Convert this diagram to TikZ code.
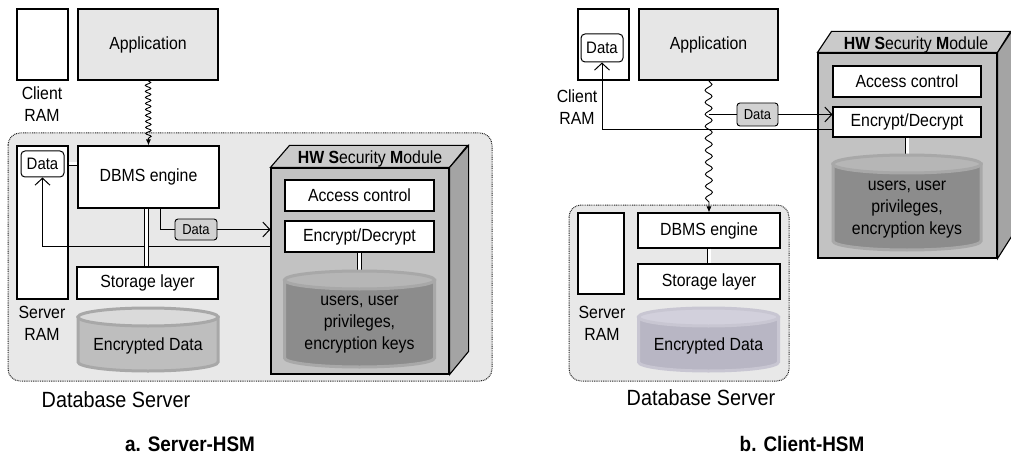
\documentclass[tikz,border=0pt]{standalone}
\usepackage{fontspec}
\setmainfont{Liberation Sans}[FakeStretch=0.9]
\definecolor{ServerGray}{RGB}{232, 232, 232}
\definecolor{AppGray}{RGB}{230, 230, 230}
\definecolor{LabelGray}{RGB}{210, 210, 210}
\definecolor{HsmFront}{RGB}{194, 194, 194}
\definecolor{HsmTop}{RGB}{202, 202, 202}
\definecolor{HsmSide}{RGB}{164, 164, 164}
\definecolor{KeyBody}{RGB}{140, 140, 140}
\definecolor{KeyEdge}{RGB}{168, 168, 168}
\definecolor{KeyTop}{RGB}{182, 182, 182}
\definecolor{EncBody}{RGB}{190, 190, 190}
\definecolor{EncEdge}{RGB}{168, 168, 168}
\definecolor{EncTop}{RGB}{218, 218, 218}
\definecolor{LavBody}{RGB}{184, 182, 196}
\definecolor{LavEdge}{RGB}{200, 198, 210}
\definecolor{LavTop}{RGB}{210, 208, 220}
\usepackage{tikz}
\usetikzlibrary{arrows.meta, decorations.pathmorphing}

% cylinder: style, top colour, x centre, top y, bottom y, x radius
\newcommand{\drawcyl}[6]{%
  \draw[#1] (#3-#6,#4) -- (#3-#6,#5) arc[start angle=180, end angle=0, x radius=#6, y radius=9] -- (#3+#6,#4) -- cycle;
  \draw[#1, fill=#2] (#3,#4) ellipse[x radius=#6, y radius=9];
}

\tikzset{
  box/.style={draw, fill=white, line width=1.1pt, inner sep=0pt, font=\fontsize{17.6}{19}\selectfont},
  appbox/.style={box, fill=AppGray},
  ramtext/.style={align=center, font=\fontsize{17.6}{22}\selectfont},
  datalbl/.style={draw, fill=LabelGray, rounded corners=3pt, line width=0.9pt, inner sep=0pt, font=\fontsize{14.4}{16}\selectfont},
  ramdata/.style={draw, fill=white, rounded corners=4pt, line width=1pt, inner sep=0pt, font=\fontsize{16.6}{18}\selectfont},
  hsmface/.style={draw, fill=HsmFront, line width=1.1pt},
  server/.style={draw=black!85, dash pattern=on 0.9pt off 0.9pt, line width=1pt, rounded corners=12pt, fill=ServerGray},
  conn/.style={line width=1pt},
  barb/.style={conn, -{Straight Barb[length=7pt, width=15pt, line width=1pt]}},
  dbl/.style={double=white, double distance=3pt, line width=0.9pt},
  wavy/.style 2 args={line width=0.9pt, -{Latex[length=6pt, width=5pt]}, decorate,
    decoration={snake, amplitude=#2, segment length=#1, post length=5pt}},
  keystext/.style={align=center, font=\fontsize{17.6}{22}\selectfont},
  bigtext/.style={font=\fontsize{22}{24}\selectfont},
  caption/.style={font=\fontsize{21}{24}\selectfont\bfseries}
}

\begin{document}
\begin{tikzpicture}[x=1pt, y=-1pt]
  \useasboundingbox (0,0) rectangle (1011,457);

  % ---------------- a. Server-HSM ----------------
  \draw[server] (8,133) rectangle (492,381);

  \node[box, minimum width=51, minimum height=71] (cramA) at (42.5,44.5) {};
  \node[appbox, minimum width=140, minimum height=71] (appA) at (148,44.5) {Application};
  \node[ramtext] (cramlblA) at (42,104) {Client\\RAM};

  \node[box, minimum width=51, minimum height=153] (sramA) at (42.5,222.5) {};
  \node[ramdata, minimum width=43, minimum height=26] (ramdataA) at (42.5,164) {Data};
  \node[ramtext] (sramlblA) at (42,323) {Server\\RAM};

  \node[box, minimum width=141, minimum height=62] (dbmsA) at (148.5,177) {DBMS engine};
  \node[box, minimum width=141, minimum height=32] (storA) at (147.5,283) {Storage layer};
  \drawcyl{EncEdge, fill=EncBody, line width=3pt}{EncTop}{148}{317}{362}{70}
  \node[font=\fontsize{17.6}{19}\selectfont] (encdataA) at (148,346) {Encrypted Data};

  % HSM box
  \node[hsmface, minimum width=178, minimum height=206] (hsmA) at (360,271) {};
  \draw[hsmface, fill=HsmTop] (hsmA.north west) -- ++(19,-22) -- ++(178,0) -- (hsmA.north east) -- cycle;
  \draw[hsmface, fill=HsmSide] (hsmA.north east) -- ++(19,-22) -- ++(0,206) -- (hsmA.south east) -- cycle;
  \node[font=\fontsize{17.6}{19}\selectfont] (hsmtitleA) at (370,159) {\textbf{HW S}ecurity \textbf{M}odule};
  \node[box, minimum width=149, minimum height=31] (accA) at (359.5,195.5) {Access control};
  \node[box, minimum width=149, minimum height=31] (encA) at (359.5,236.5) {Encrypt/Decrypt};
  \draw[dbl] (encA.south) -- ++(0,30);
  \drawcyl{KeyEdge, fill=KeyBody, line width=3pt}{KeyTop}{359.5}{280}{358}{75}
  \node[keystext] (keysA) at (359.5,325) {users, user\\privileges,\\encryption keys};

  % connectors
  \draw[wavy={6pt}{2.7pt}] (appA.south) -- (dbmsA.north);
  \draw[barb] ([yshift=25pt]hsmA.west) -| (ramdataA.south);
  \node[datalbl, minimum width=42, minimum height=21] (dataA) at (196,229.5) {Data};
  \draw[conn] ([xshift=12pt]dbmsA.south) |- (dataA.west);
  \draw[barb] (dataA.east) -- (dataA.east -| hsmA.west);
  \draw[dbl] (ramdataA -| sramA.east) -- (ramdataA -| dbmsA.west);
  \draw[dbl] ([xshift=-2pt]dbmsA.south) -- ([xshift=-2pt]dbmsA.south |- storA.north);

  \node[bigtext] (serverlblA) at (116,400) {Database Server};
  \node[caption] (capA) at (190,444) {a. Server-HSM};

  % ---------------- b. Client-HSM ----------------
  \draw[server] (569,205) rectangle (789,381);

  \node[box, minimum width=51, minimum height=71] (cramB) at (603.5,44.5) {};
  \node[ramdata, minimum width=42, minimum height=28] (ramdataB) at (602,48) {Data};
  \node[appbox, minimum width=139, minimum height=71] (appB) at (708.5,44.5) {Application};
  \node[ramtext] (cramlblB) at (577,107) {Client\\RAM};

  \node[box, minimum width=46, minimum height=81] (sramB) at (601,253.5) {};
  \node[ramtext] (sramlblB) at (602,323) {Server\\RAM};
  \node[box, minimum width=142, minimum height=35] (dbmsB) at (709,230.5) {DBMS engine};
  \node[box, minimum width=142, minimum height=35] (storB) at (709,281.5) {Storage layer};
  \draw[dbl] (dbmsB.south) -- (storB.north);
  \drawcyl{LavEdge, fill=LavBody, line width=3pt}{LavTop}{708.5}{317}{362}{70}
  \node[font=\fontsize{17.6}{19}\selectfont] (encdataB) at (708.5,346) {Encrypted Data};

  % HSM box
  \node[hsmface, minimum width=179, minimum height=205] (hsmB) at (907.5,155.5) {};
  \draw[hsmface, fill=HsmTop] (hsmB.north west) -- ++(14,-21) -- ++(179,0) -- (hsmB.north east) -- cycle;
  \draw[hsmface, fill=HsmSide] (hsmB.north east) -- ++(14,-21) -- ++(0,205) -- (hsmB.south east) -- cycle;
  \node[font=\fontsize{17.6}{19}\selectfont] (hsmtitleB) at (916,45) {\textbf{HW S}ecurity \textbf{M}odule};
  \node[box, minimum width=148, minimum height=31] (accB) at (907,81.5) {Access control};
  \node[box, minimum width=148, minimum height=30] (encB) at (907,122) {Encrypt/Decrypt};
  \draw[dbl] (encB.south) -- ++(0,30);
  \drawcyl{KeyEdge, fill=KeyBody, line width=3pt}{KeyTop}{907}{164}{241}{74}
  \node[keystext] (keysB) at (907,210) {users, user\\privileges,\\encryption keys};

  % connectors
  \draw[barb] ([yshift=-8pt]encB.west) -| (ramdataB.south);
  \draw[wavy={12pt}{3.5pt}] (appB.south) -- (dbmsB.north);
  \node[datalbl, minimum width=41, minimum height=23] (dataB) at (757.5,114.5) {Data};
  \draw[conn] (appB.south |- dataB.west) -- (dataB.west);
  \draw[barb] (dataB.east) -- (dataB.east -| encB.west);

  \node[bigtext] (serverlblB) at (701,398) {Database Server};
  \node[caption] (capB) at (802,444) {b. Client-HSM};
\end{tikzpicture}
\end{document}
